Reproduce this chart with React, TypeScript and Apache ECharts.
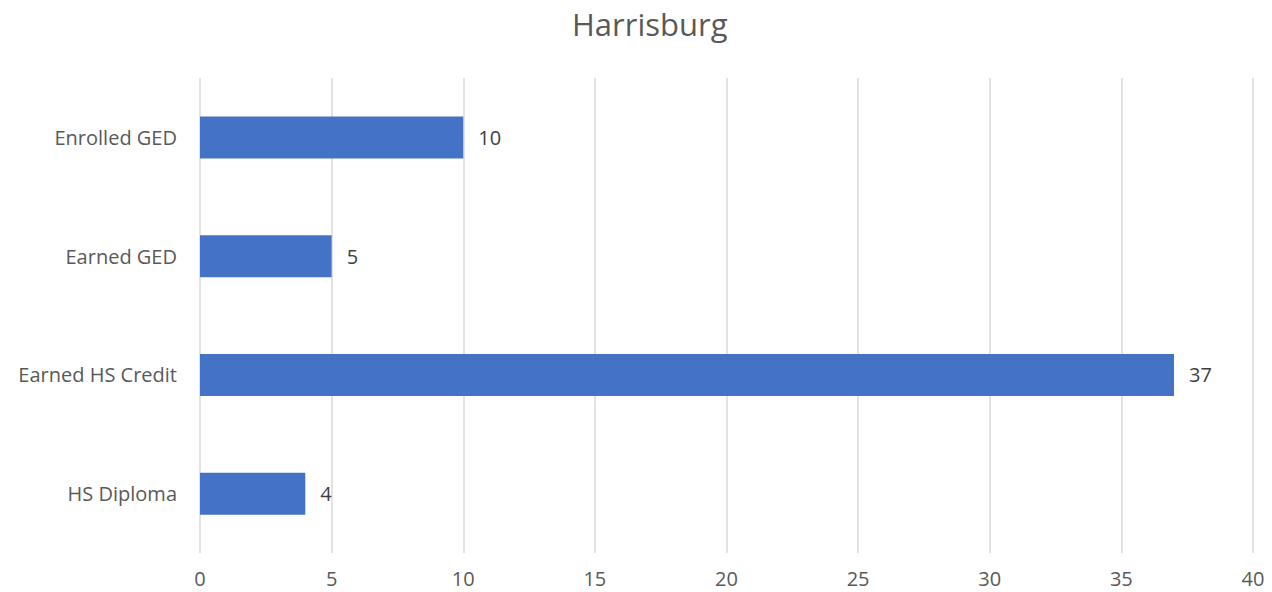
import React, { useEffect, useRef } from "react";
import * as echarts from "echarts";

const title = "Harrisburg";
const categories = ["Enrolled GED", "Earned GED", "Earned HS Credit", "HS Diploma"];
const values = [10, 5, 37, 4];
const xMin = 0;
const xMax = 40;
const xInterval = 5;

export default function App() {
  const ref = useRef<HTMLDivElement>(null);
  useEffect(() => {
    document.body.style.margin = "0";
    const chart = echarts.init(ref.current!, null, { renderer: "svg" });
    const font = "'Open Sans', 'Noto Sans', sans-serif";
    chart.setOption({
      animation: false,
      backgroundColor: "#ffffff",
      title: {
        text: title,
        left: 567,
        top: 3,
        textStyle: { fontFamily: font, fontSize: 31, fontWeight: "normal", color: "#595959" },
      },
      grid: { left: 200, right: 19, top: 78, bottom: 39, containLabel: false },
      xAxis: {
        type: "value",
        min: xMin,
        max: xMax,
        interval: xInterval,
        axisLine: { show: false },
        axisTick: { show: false },
        axisLabel: { color: "#595959", fontFamily: font, fontSize: 20, margin: 15 },
        splitLine: { show: true, lineStyle: { color: "#d9d9d9", width: 1.5 } },
      },
      yAxis: {
        type: "category",
        data: categories,
        inverse: true,
        axisLine: { show: false },
        axisTick: { show: false },
        axisLabel: { color: "#595959", fontFamily: font, fontSize: 20, margin: 23 },
        splitLine: { show: false },
      },
      series: [
        {
          type: "bar",
          data: values,
          barWidth: 42,
          itemStyle: { color: "#4472C4" },
          label: {
            show: true,
            position: "right",
            distance: 15,
            color: "#404040",
            fontFamily: font,
            fontSize: 20,
          },
        },
      ],
    });
    return () => chart.dispose();
  }, []);
  return <div ref={ref} style={{ width: 1272, height: 592 }} />;
}
